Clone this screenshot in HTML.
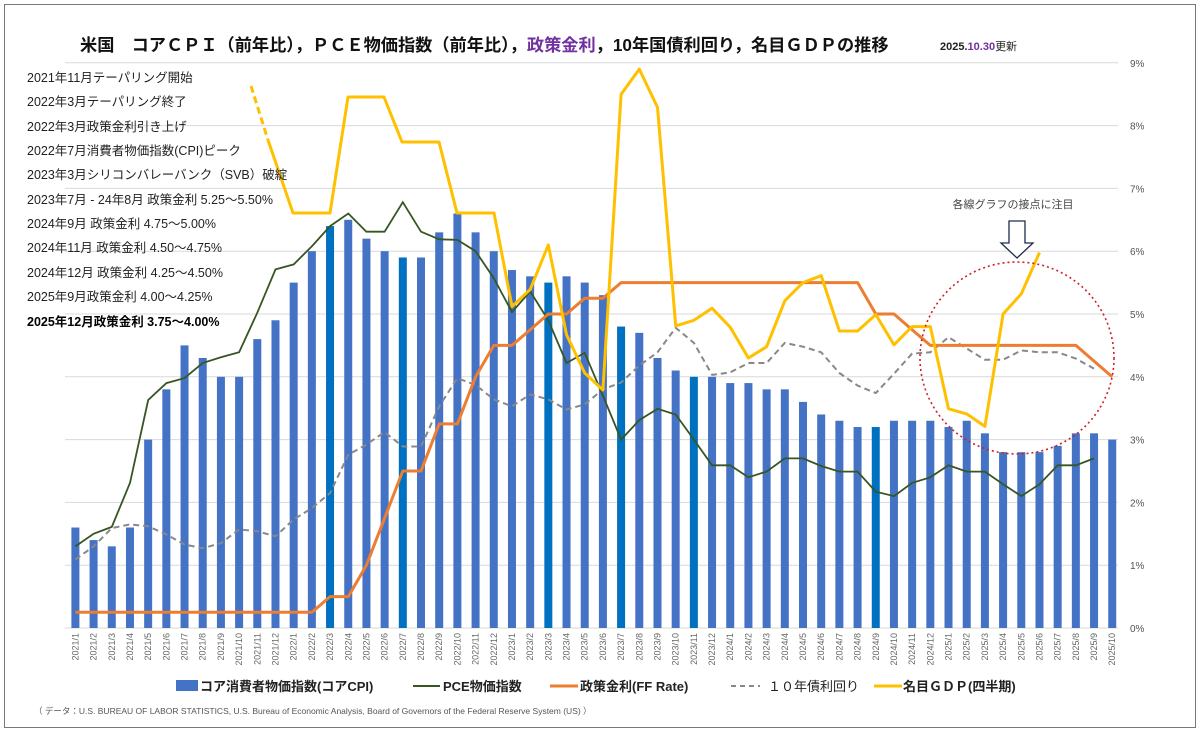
<!DOCTYPE html>
<html><head><meta charset="utf-8"><style>
body{margin:0;background:#fff;}
svg{display:block;font-family:"Liberation Sans","Noto Sans CJK JP",sans-serif;}
</style></head><body>
<svg id="s" width="1200" height="735" viewBox="0 0 1200 735" xmlns="http://www.w3.org/2000/svg">
<rect x="4.5" y="4.5" width="1191" height="723" fill="#fff" stroke="#777" stroke-width="1"/>
<g id="grid"></g><g id="bars"></g><g id="lines"></g>
<text x="80" y="51" font-size="17.2" font-weight="bold" fill="#111">米国　コアＣＰＩ（前年比），ＰＣＥ物価指数（前年比），<tspan fill="#7030a0">政策金利</tspan>，10年国債利回り，名目ＧＤＰの推移</text>
<text x="940" y="50" font-size="11" font-weight="bold" fill="#222">2025.<tspan fill="#7030a0">10.30</tspan><tspan font-weight="normal">更新</tspan></text>
<g font-size="12.5" fill="#222">
<text x="27" y="82">2021年11月テーパリング開始</text>
<text x="27" y="106">2022年3月テーパリング終了</text>
<text x="27" y="131">2022年3月政策金利引き上げ</text>
<text x="27" y="155">2022年7月消費者物価指数(CPI)ピーク</text>
<text x="27" y="179">2023年3月シリコンバレーバンク（SVB）破綻</text>
<text x="27" y="204">2023年7月 - 24年8月 政策金利 5.25～5.50%</text>
<text x="27" y="228">2024年9月 政策金利 4.75～5.00%</text>
<text x="27" y="252">2024年11月 政策金利 4.50～4.75%</text>
<text x="27" y="277">2024年12月 政策金利 4.25～4.50%</text>
<text x="27" y="301">2025年9月政策金利 4.00～4.25%</text>
<text x="27" y="326" font-weight="bold" fill="#000">2025年12月政策金利 3.75～4.00%</text>
</g>
<text x="1013" y="208" font-size="11" fill="#444" text-anchor="middle">各線グラフの接点に注目</text>
<path d="M1009,221 L1025,221 L1025,243 L1033,243 L1017,258 L1001,243 L1009,243 Z" fill="#fff" stroke="#1f2d4a" stroke-width="1.3"/>
<ellipse cx="1017" cy="358" rx="97" ry="96" fill="none" stroke="#d0202a" stroke-width="1.6" stroke-dasharray="2,3"/>
<g font-size="13" font-weight="bold" fill="#222">
<rect x="176" y="680" width="22" height="11" fill="#4472c4"/><text x="200" y="691">コア消費者物価指数(コアCPI)</text>
<line x1="413" y1="686" x2="440" y2="686" stroke="#375623" stroke-width="2"/><text x="443" y="691">PCE物価指数</text>
<line x1="550" y1="686" x2="578" y2="686" stroke="#ed7d31" stroke-width="3"/><text x="580" y="691">政策金利(FF Rate)</text>
<line x1="731" y1="686" x2="760" y2="686" stroke="#888" stroke-width="2" stroke-dasharray="5,4"/><text x="768" y="691" font-weight="normal">１０年債利回り</text>
<line x1="874" y1="686" x2="902" y2="686" stroke="#ffc000" stroke-width="3"/><text x="903" y="691">名目ＧＤＰ(四半期)</text>
</g>
<text x="34" y="714" font-size="8.5" fill="#555">（ データ：U.S. BUREAU OF LABOR STATISTICS,  U.S. Bureau of Economic Analysis,  Board of Governors of the Federal Reserve System (US) ）</text>
<g id="ticks" font-size="9" fill="#666"></g>
</svg>
<script>
var NS="http://www.w3.org/2000/svg";
function el(p,t,a,txt){var e=document.createElementNS(NS,t);for(var k in a)e.setAttribute(k,a[k]);if(txt!==undefined)e.textContent=txt;document.getElementById(p).appendChild(e);return e;}
function X(i){return 75.4+18.19*i;}
function Y(v){return 628-62.8*v;}
for(var g=0;g<=9;g++){el('grid','line',{x1:65,x2:1118,y1:Y(g),y2:Y(g),stroke:'#d9d9d9','stroke-width':1});
el('grid','text',{x:1130,y:Y(g)+4,'font-size':10,fill:'#555'},g+'%');}
var cpi=[1.6,1.4,1.3,1.6,3.0,3.8,4.5,4.3,4.0,4.0,4.6,4.9,5.5,6.0,6.4,6.5,6.2,6.0,5.9,5.9,6.3,6.6,6.3,6.0,5.7,5.6,5.5,5.6,5.5,5.3,4.8,4.7,4.3,4.1,4.0,4.0,3.9,3.9,3.8,3.8,3.6,3.4,3.3,3.2,3.2,3.3,3.3,3.3,3.2,3.3,3.1,2.8,2.8,2.8,2.9,3.1,3.1,3.0];
var dark={14:1,18:1,26:1,30:1,34:1,44:1};
for(var i=0;i<58;i++){el('bars','rect',{x:X(i)-4,y:Y(cpi[i]),width:8,height:62.8*cpi[i],fill:dark[i]?'#0070c0':'#4472c4'});
var y=2021+Math.floor(i/12),m=i%12+1;
el('ticks','text',{x:0,y:0,'text-anchor':'end',transform:'translate('+(X(i)+3)+',633) rotate(-90)'},y+'/'+m);}
function pts(arr,start){var s=[];for(var i=0;i<arr.length;i++)s.push(X(start+i).toFixed(1)+','+Y(arr[i]).toFixed(1));return s.join(' ');}
var tenY=[1.09,1.3,1.59,1.65,1.62,1.49,1.33,1.27,1.35,1.57,1.54,1.46,1.73,1.91,2.15,2.76,2.92,3.12,2.89,2.89,3.53,3.98,3.87,3.64,3.53,3.72,3.64,3.48,3.56,3.8,3.91,4.18,4.39,4.78,4.54,4.03,4.07,4.22,4.22,4.54,4.48,4.39,4.06,3.86,3.74,4.05,4.37,4.39,4.63,4.45,4.27,4.27,4.42,4.39,4.39,4.29,4.13];
el('lines','polyline',{points:pts(tenY,0),fill:'none',stroke:'#888','stroke-width':2,'stroke-dasharray':'6,4','stroke-linejoin':'round'});
var pce=[1.3,1.5,1.61,2.31,3.63,3.9,3.98,4.22,4.31,4.39,5.02,5.71,5.79,6.08,6.4,6.6,6.31,6.31,6.78,6.31,6.19,6.18,6.0,5.57,5.03,5.36,4.9,4.22,4.38,3.7,3.0,3.31,3.49,3.4,3.0,2.59,2.59,2.4,2.49,2.7,2.7,2.58,2.49,2.49,2.17,2.1,2.31,2.4,2.59,2.49,2.49,2.29,2.1,2.29,2.59,2.59,2.7];
el('lines','polyline',{points:pts(pce,0),fill:'none',stroke:'#375623','stroke-width':1.8});
var ff=[];for(var i=0;i<14;i++)ff.push(0.25);
ff=ff.concat([0.5,0.5,1.0,1.75,2.5,2.5,3.25,3.25,4.0,4.5,4.5,4.75,5.0,5.0,5.25,5.25]);
for(var i=30;i<=43;i++)ff.push(5.5);
ff=ff.concat([5.0,5.0,4.75,4.5,4.5,4.5,4.5,4.5,4.5,4.5,4.5,4.5,4.25,4.0]);
el('lines','polyline',{points:pts(ff,0),fill:'none',stroke:'#ed7d31','stroke-width':3,'stroke-linejoin':'round'});
var gdp='268,140 293,213 330,213 348,97 384,97 402,142 439,142 457,213 494,213 '+pts([5.12,5.39,6.1,4.67,4.06,3.79,8.5,8.9,8.29,4.81,4.9,5.09,4.79,4.3,4.48,5.21,5.5,5.61,4.73,4.73,4.99,4.51,4.8,4.8,3.49,3.41,3.21,5.0,5.32,5.98],24);
el('lines','polyline',{points:gdp,fill:'none',stroke:'#ffc000','stroke-width':3,'stroke-linejoin':'round'});
el('lines','line',{x1:251,y1:86,x2:268,y2:140,stroke:'#ffc000','stroke-width':3,'stroke-dasharray':'7,4'});
</script>
</body></html>
